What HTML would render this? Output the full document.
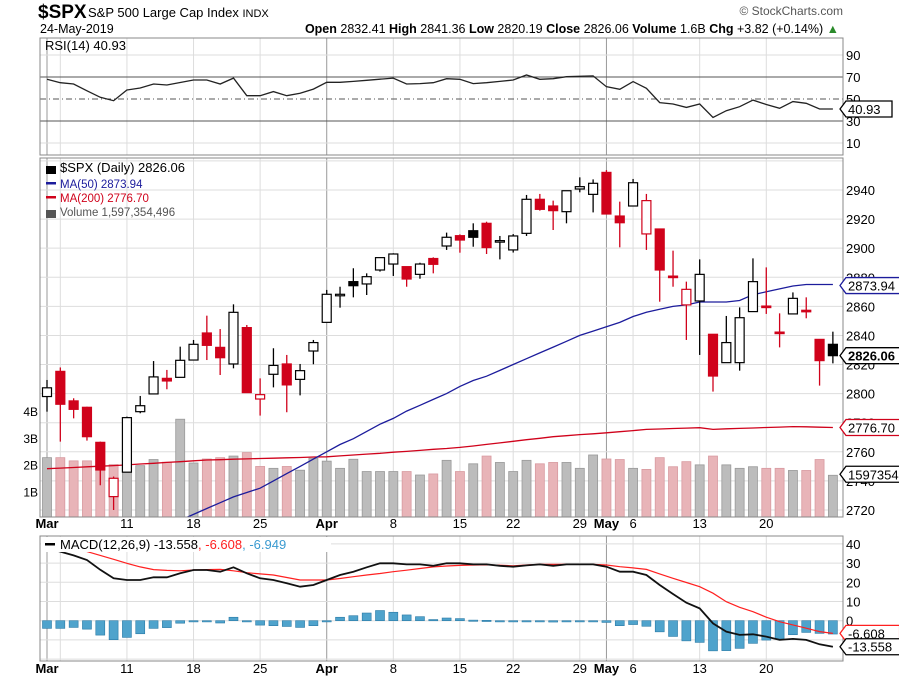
<!DOCTYPE html>
<html><head><meta charset="utf-8"><style>
body{margin:0;background:#fff;}
svg{display:block;font-family:"Liberation Sans",sans-serif;}
</style></head><body>
<svg id="c" width="899" height="679" viewBox="0 0 899 679">
<defs>
<clipPath id="mainClip"><rect x="40" y="158" width="803" height="359"/></clipPath>
<clipPath id="macdClip"><rect x="40" y="536" width="803" height="125"/></clipPath>
</defs>
<g>
<text x="38" y="18" font-size="19" font-weight="bold">$SPX</text>
<text x="88" y="17" font-size="13">S&amp;P 500 Large Cap Index <tspan font-size="11">INDX</tspan></text>
<text x="40" y="33" font-size="12.5">24-May-2019</text>
<text x="839" y="33" font-size="12.5" text-anchor="end"><tspan font-weight="bold">Open</tspan> 2832.41 <tspan font-weight="bold">High</tspan> 2841.36 <tspan font-weight="bold">Low</tspan> 2820.19 <tspan font-weight="bold">Close</tspan> 2826.06 <tspan font-weight="bold">Volume</tspan> 1.6B <tspan font-weight="bold">Chg</tspan> +3.82 (+0.14%) <tspan fill="#2a8a2a">▲</tspan></text>
<text x="843" y="15" font-size="12" fill="#555" text-anchor="end">© StockCharts.com</text>
</g>
<g id="grid"></g>
<g id="rsi"></g>
<g id="main"></g>
<g id="macd"></g>
<g id="frames"></g>
</svg>
<script>
const dates=["Mar 1","Mar 4","Mar 5","Mar 6","Mar 7","Mar 8","Mar 11","Mar 12","Mar 13","Mar 14","Mar 15","Mar 18","Mar 19","Mar 20","Mar 21","Mar 22","Mar 25","Mar 26","Mar 27","Mar 28","Mar 29","Apr 1","Apr 2","Apr 3","Apr 4","Apr 5","Apr 8","Apr 9","Apr 10","Apr 11","Apr 12","Apr 15","Apr 16","Apr 17","Apr 18","Apr 22","Apr 23","Apr 24","Apr 25","Apr 26","Apr 29","Apr 30","May 1","May 2","May 3","May 6","May 7","May 8","May 9","May 10","May 13","May 14","May 15","May 16","May 17","May 20","May 21","May 22","May 23","May 24"];
const opens=[2798,2815.3,2795,2790.6,2766.5,2729.2,2746,2787.6,2799.8,2810.5,2811.2,2823.1,2841.7,2831.8,2820.4,2845.4,2796.3,2813.3,2820.4,2809.8,2829.3,2849,2867.5,2877,2875.4,2885,2889.1,2887.3,2882,2892.9,2901.5,2908.6,2912,2917.1,2905,2898.8,2910.2,2933.6,2929,2925.1,2940.7,2937,2952.1,2922.1,2929,2909.8,2913.2,2880.8,2861,2863.7,2840.8,2821.3,2821.3,2856.4,2860.2,2842.3,2854.8,2857.3,2837.3,2833.9];
const highs=[2809.4,2818,2796.8,2791,2767,2743,2784.2,2798.4,2822.4,2816.3,2832.3,2836.9,2853.6,2844.4,2861.4,2847.2,2810.5,2831.2,2826.6,2820.4,2836.9,2871.3,2873.5,2886.2,2882.7,2893.5,2896.5,2887.3,2890,2893.7,2910.7,2909.5,2917.1,2918.2,2908.4,2909.7,2936.6,2937.3,2932.7,2939.5,2948.7,2947.3,2953.7,2932,2947.6,2937.3,2913.2,2898.3,2877,2892.3,2840.8,2853.4,2859.3,2893,2886.8,2855.2,2869.6,2866.2,2837.3,2842.6];
const lows=[2787.6,2767,2783,2767.7,2737,2720,2746,2786.5,2799.8,2803,2811.2,2823.1,2823.1,2812.8,2817.4,2800.7,2784.9,2804.3,2787.2,2798.8,2820.2,2849,2859.1,2866.2,2867.8,2883.9,2880.9,2873.5,2879,2882.7,2898.8,2896.9,2901,2896,2892.3,2897,2908.4,2925.8,2912.5,2917.1,2938.4,2924.6,2923.5,2900.6,2929,2898.8,2863.2,2873.5,2836.9,2826.6,2801.4,2821.3,2815.8,2856.4,2854.8,2831.8,2854.8,2851.8,2805.5,2820.8];
const closes=[2804,2792.7,2789.2,2770.4,2747.5,2741.8,2783.5,2791.7,2811.5,2808.7,2822.9,2833.9,2833.2,2824.7,2855.9,2800.7,2799.3,2819.4,2806,2815.8,2835.1,2868.3,2868.3,2874.2,2880.4,2893.5,2896,2878.8,2889.1,2888.9,2907.5,2905.6,2907.5,2900.4,2905.2,2908.4,2933.6,2926.7,2925.8,2939.5,2942.3,2944.6,2923.5,2917.5,2945,2932.7,2885,2880.4,2871.7,2882,2812.1,2835.1,2852.2,2877,2859.8,2842.1,2865.5,2857,2822.7,2826.1];
const prevClose0=2784.5;
const volumes=[2.26,2.26,2.14,2.14,2.0,2.0,2.06,1.96,2.19,2.09,3.7,2.06,2.21,2.26,2.32,2.45,1.93,1.86,1.93,1.79,2.24,2.13,1.86,2.2,1.74,1.74,1.74,1.74,1.61,1.65,2.16,1.74,2.03,2.32,2.08,1.74,2.16,2.03,2.08,2.08,1.86,2.36,2.21,2.19,1.86,1.82,2.26,1.92,2.11,1.99,2.32,1.99,1.86,1.92,1.86,1.86,1.78,1.78,2.19,1.6];
const ma50=[2664,2669,2674,2679,2684,2689,2694,2699,2704,2709,2713,2717,2721,2725,2729,2732,2735,2740,2745,2750,2755,2760,2765,2769,2774,2779,2783,2788,2792,2796,2800,2805,2809,2812,2816,2820,2824,2828,2832,2836,2840,2843,2846,2849,2853,2856,2858,2860,2861,2863,2863,2863,2864,2868,2870,2872,2874,2875,2875,2875];
const ma200=[2748.4,2748.8,2749.2,2749.7,2750.1,2750.5,2751,2751.6,2752.1,2752.7,2753.2,2753.8,2754.4,2754.6,2754.9,2755.1,2755.4,2755.6,2755.9,2756.1,2756.4,2756.6,2757.2,2757.8,2758.4,2759,2759.7,2760.3,2761,2761.7,2762.3,2763,2764,2765.1,2766.1,2767.2,2768.3,2769.3,2770.4,2771.1,2771.8,2772.4,2773.1,2773.8,2774.6,2775.4,2775.7,2776,2776.3,2776.6,2775.4,2775.8,2776.1,2776.4,2776.7,2777,2777.3,2777.2,2776.9,2776.7];
const rsi=[68,64.8,63.6,57.5,51.5,48.5,58.2,60,63.6,62.7,65,67.3,67.3,63.6,69,53,53,56.7,53,55.2,59,65.2,65.2,66,67,68,69,63.6,64,64.8,68.5,67.9,64,64.8,66,67.3,71.8,67.9,68.5,70.3,70.6,71,61.2,58.8,65.8,59.7,46.7,45.5,42.4,45.5,33.3,39.4,43,49,45,41.5,47.6,46.1,40.9,40.93];
const macdLine=[38,36,34,31.6,26.5,22.1,21.2,21.2,22.6,22.6,24.7,26.4,26.4,25.5,27.8,24.7,22.1,21.2,19.5,17.7,18.6,21.2,23.8,25.5,27.8,29.9,29.9,29.3,29.3,28.6,29.9,29.9,29.3,29.3,28.6,28.1,28.8,29.3,28.6,29.3,29.3,29.3,28.1,25.5,25.5,23.8,18.6,13.9,9.4,6.4,-1.4,-5.7,-7.4,-7.1,-8.3,-10,-9.5,-10,-12.3,-13.558];
const signalLine=[42,40,37.5,36,34,32,29.9,28,26.6,26.2,26,26.4,26.6,26.7,26,25,24.4,23.8,22.5,21.2,21.2,21.2,22,22.9,23.8,24.6,25.5,26.3,27.2,28,28.5,28.8,29,29.1,28.9,28.6,29,29.3,29.3,29.3,29.3,29.3,29,28.1,27.5,26.7,24.4,22.1,19.9,17.7,14.3,9.9,7,4.7,1.8,-0.5,-2.2,-3.9,-5.7,-6.608];
const priceTicks=[2720,2740,2760,2780,2800,2820,2840,2860,2880,2900,2920,2940];
const volTicks=[1,2,3,4];
const rsiTicks=[10,30,50,70,90];
const macdTicks=[0,10,20,30,40];
const dateLabels=[["Mar",0,true],["11",6,false],["18",11,false],["25",16,false],["Apr",21,true],["8",26,false],["15",31,false],["22",35,false],["29",40,false],["May",42,true],["6",44,false],["13",49,false],["20",54,false]];
const gridIdx=[0,1,6,11,16,21,26,31,35,40,42,44,49,54];

const NS="http://www.w3.org/2000/svg";
const X0=40,X1=843;
const xs=i=>47+13.32*i;
const yP=p=>190+(2940-p)*1.4545;
const yV=v=>518-v*26.7;
const yR=r=>121-(r-30)*1.1;
const yM=m=>620.7-m*1.92;
function mk(parent,tag,attrs,text){const e=document.createElementNS(NS,tag);for(const k in attrs)e.setAttribute(k,attrs[k]);if(text!==undefined)e.textContent=text;parent.appendChild(e);return e;}
const G=document.getElementById('grid'),R=document.getElementById('rsi'),M=document.getElementById('main'),D=document.getElementById('macd'),F=document.getElementById('frames');

// vertical grid
gridIdx.forEach(i=>{const strong=(i===0||i===21||i===42);
 [[38,155],[158,517],[536,661]].forEach(([a,b])=>{const l=mk(G,'line',{x1:xs(i),x2:xs(i),y1:a,y2:b,stroke:strong?'#999':'#ddd','stroke-width':1});
 
 });});
// price horizontal grid + labels
priceTicks.concat([2960]).forEach(p=>{const l=mk(G,'line',{x1:X0,x2:X1,y1:yP(p),y2:yP(p),stroke:'#ddd'});
 
 });
priceTicks.forEach(p=>{const t=mk(G,'text',{x:846,y:yP(p)+5,'font-size':13},String(p));
 
 });
volTicks.forEach(v=>{const t=mk(G,'text',{x:38,y:yV(v)+5,'font-size':12,'text-anchor':'end'},v+'B');
 
 });
// RSI grid
rsiTicks.forEach(r=>{const dark=(r===30||r===70);const l=mk(G,'line',{x1:X0,x2:X1,y1:yR(r),y2:yR(r),stroke:dark?'#555':(r===50?'#555':'#ddd'),'stroke-dasharray':r===50?'6,3,1,3':'none'});
 
 
 const t=mk(G,'text',{x:846,y:yR(r)+5,'font-size':13},String(r));
 
 });
// MACD grid
[-20,-10,0,10,20,30,40].forEach(m=>{const l=mk(G,'line',{x1:X0,x2:X1,y1:yM(m),y2:yM(m),stroke:'#ddd'});
 
 });
macdTicks.forEach(m=>{const t=mk(G,'text',{x:846,y:yM(m)+5,'font-size':13},String(m));
 
 });
// date labels
dateLabels.forEach(([s,i,b])=>{[528,673].forEach(yy=>{const t=mk(G,'text',{x:xs(i),y:yy,'font-size':13,'text-anchor':'middle','font-weight':b?'bold':'normal'},s);
 
 });});

// RSI line
let d='';rsi.forEach((r,i)=>{d+=(i?'L':'M')+xs(i).toFixed(1)+','+yR(r).toFixed(1);});
const rl=mk(R,'path',{d:d,fill:'none',stroke:'#222','stroke-width':1.3});


const rlg=mk(R,'text',{x:45,y:50,'font-size':13},'RSI(14) 40.93');



// main panel
const mg=mk(M,'g',{'clip-path':'url(#mainClip)'});
volumes.forEach((v,i)=>{const pc=i?closes[i-1]:prevClose0;const down=closes[i]<pc;
 const b=mk(mg,'rect',{x:xs(i)-4.5,y:yV(v),width:9,height:518-yV(v),fill:down?'#e8b4b8':'#bcbcbc',stroke:down?'#d89aa0':'#999','stroke-width':0.8});
 
 });
[[ma200,'#d0021b','ma200-line'],[ma50,'#1c1c9c','ma50-line']].forEach(([arr,c,n])=>{let p='';arr.forEach((v,i)=>{p+=(i?'L':'M')+xs(i).toFixed(1)+','+yP(v).toFixed(1);});
 const l=mk(mg,'path',{d:p,fill:'none',stroke:c,'stroke-width':1.3});
 
 });
closes.forEach((c,i)=>{const o=opens[i],pc=i?closes[i-1]:prevClose0;const col=c<pc?'#d0021b':'#000';const x=xs(i);
 const g=mk(mg,'g',{});
 
 
 mk(g,'line',{x1:x,x2:x,y1:yP(highs[i]),y2:yP(lows[i]),stroke:col,'stroke-width':1.3});
 const top=yP(Math.max(o,c)),bot=yP(Math.min(o,c));
 mk(g,'rect',{x:x-4.5,y:top,width:9,height:Math.max(1.5,bot-top),fill:c>o?'#fff':col,stroke:col,'stroke-width':1.2});});
// legend
const lg=[["$SPX (Daily) 2826.06",'#000',172],["MA(50) 2873.94",'#1c1c9c',188],["MA(200) 2776.70",'#d0021b',202],["Volume 1,597,354,496",'#555',216]];
lg.forEach(([s,c,y],k)=>{const t=mk(M,'text',{x:60,y:y,'font-size':k===0?13:11.5,fill:c},s);
 
 
 mk(M,'rect',{x:46,y:y-6,width:10,height:k===0||k===3?8:2.5,fill:c});});

// MACD
const dg=mk(D,'g',{'clip-path':'url(#macdClip)'});
macdLine.forEach((m,i)=>{const h=m-signalLine[i];const y0=yM(0),y1=yM(h);
 const b=mk(dg,'rect',{x:xs(i)-4.5,y:Math.min(y0,y1),width:9,height:Math.max(1.2,Math.abs(y1-y0)),fill:'#4fa3cc',stroke:'#2a7aa6','stroke-width':0.6});
 
 });
[[signalLine,'#ff2020','signal-line',1.2],[macdLine,'#111','macd-line',1.8]].forEach(([arr,c,n,w])=>{let p='';arr.forEach((v,i)=>{p+=(i?'L':'M')+xs(i).toFixed(1)+','+yM(v).toFixed(1);});
 const l=mk(dg,'path',{d:p,fill:'none',stroke:c,'stroke-width':w});
 
 });
mk(D,'rect',{x:41,y:537,width:290,height:15,fill:'#fff'});
mk(D,'rect',{x:45,y:543,width:10,height:2.5,fill:'#000'});
const ml=mk(D,'text',{x:60,y:549,'font-size':13},'');


ml.innerHTML='MACD(12,26,9) -13.558<tspan fill="#ff2020">, -6.608</tspan><tspan fill="#3a9ad0">, -6.949</tspan>';

// frames
[[40,38,803,117],[40,158,803,359],[40,536,803,125]].forEach(([x,y,w,h])=>{const r=mk(F,'rect',{x:x,y:y,width:w,height:h,fill:'none',stroke:'#888'});
 
 });
// value tags
function tag(y,txt,c,bold,n){const w=txt.length*7.6+8;const g=mk(F,'g',{});
 
 
 mk(g,'path',{d:`M840,${y} L846,${y-8} L${846+w},${y-8} L${846+w},${y+8} L846,${y+8} Z`,fill:'#fff',stroke:c,'stroke-width':1.3});
 mk(g,'text',{x:848,y:y+5,'font-size':13,fill:'#000','font-weight':bold?'bold':'normal'},txt);}
tag(yP(ma50[59])+1,'2873.94','#1c1c9c',false,'ma50-value-tag');
tag(yP(closes[59]),'2826.06','#000',true,'close-value-tag');
tag(yP(ma200[59]),'2776.70','#d0021b',false,'ma200-value-tag');
tag(yV(volumes[59])-1,'1597354','#000',false,'volume-value-tag');
tag(yR(rsi[59]),'40.93','#000',false,'rsi-value-tag');
tag(yM(signalLine[59]),'-6.608','#ff2020',false,'signal-value-tag');
tag(yM(macdLine[59]),'-13.558','#000',false,'macd-value-tag');
</script>
</body></html>
